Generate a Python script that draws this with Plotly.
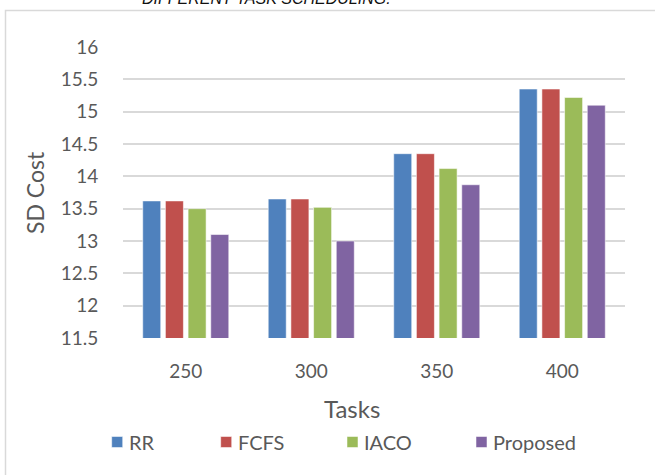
import plotly.graph_objects as go

# Task counts and SD cost per scheduling algorithm
tasks = ["250", "300", "350", "400"]
rr = [13.62, 13.65, 14.35, 15.35]
fcfs = [13.62, 13.65, 14.35, 15.35]
iaco = [13.50, 13.52, 14.12, 15.22]
proposed = [13.10, 13.00, 13.87, 15.10]

series_names = ["RR", "FCFS", "IACO", "Proposed"]
series_values = [rr, fcfs, iaco, proposed]
colors = ["#4F81BD", "#C0504D", "#9BBB59", "#8064A2"]

y_ticks = [11.5, 12, 12.5, 13, 13.5, 14, 14.5, 15, 15.5, 16]
y_tick_text = ["11.5", "12", "12.5", "13", "13.5", "14", "14.5", "15", "15.5", "16"]

W, H = 655, 475
L, R, T, B = 123, 30, 47, 137
PW, PH = W - L - R, H - T - B
FONT = "Lato"
GREY = "#595959"


def px(x):
    return (x - L) / PW


def py(y):
    return 1 - (y - T) / PH


fig = go.Figure()
for name, vals, col in zip(series_names, series_values, colors):
    fig.add_trace(go.Bar(
        x=tasks, y=vals, name=name,
        marker=dict(color=col, line=dict(color="rgba(255,255,255,0.55)", width=1)),
        showlegend=False,
    ))

shapes = [
    # chart frame (left and top edges visible)
    dict(type="rect", xref="paper", yref="paper",
         x0=px(5.5), x1=px(700), y0=py(520), y1=py(10.5),
         line=dict(color="#D9D9D9", width=1.5), fillcolor="rgba(0,0,0,0)", layer="below"),
]
annotations = [
    dict(text="<i>DIFFERENT TASK SCHEDULING.</i>", xref="paper", yref="paper",
         x=px(266), y=py(-1), xanchor="center", yanchor="middle", showarrow=False,
         font=dict(family="Liberation Sans", size=16, color="#111111")),
    dict(text="SD Cost", xref="paper", yref="paper", x=px(35), y=py(193),
         xanchor="center", yanchor="middle", textangle=-90, showarrow=False,
         font=dict(family=FONT, size=23, color=GREY)),
    dict(text="Tasks", xref="paper", yref="paper", x=px(352), y=py(408),
         xanchor="center", yanchor="middle", showarrow=False,
         font=dict(family=FONT, size=24, color=GREY)),
]

# legend row: colored squares followed by series names
legend_marks = [111.7, 220.7, 347.0, 476.0]
legend_y = 442
for name, col, mx in zip(series_names, colors, legend_marks):
    shapes.append(dict(type="rect", xref="paper", yref="paper",
                       x0=px(mx), x1=px(mx + 11), y0=py(legend_y + 5.5), y1=py(legend_y - 5.5),
                       fillcolor=col, line=dict(color="rgba(255,255,255,0.5)", width=1)))
    annotations.append(dict(text=name, xref="paper", yref="paper",
                            x=px(mx + 15), y=py(legend_y), xanchor="left", yanchor="middle",
                            showarrow=False, font=dict(family=FONT, size=20, color=GREY)))

fig.update_layout(
    width=W, height=H,
    margin=dict(l=L, r=R, t=T, b=B),
    paper_bgcolor="white", plot_bgcolor="white",
    barmode="group", bargap=0.277, bargroupgap=0.206,
    font=dict(family=FONT, size=19, color=GREY),
    shapes=shapes, annotations=annotations,
)
fig.update_xaxes(
    type="category", showgrid=False, zeroline=False, showline=False,
    ticks="outside", ticklen=16, tickcolor="rgba(0,0,0,0)",
    tickfont=dict(family=FONT, size=19, color=GREY),
)
fig.update_yaxes(
    range=[11.5, 16], tickvals=y_ticks, ticktext=y_tick_text,
    showgrid=True, gridcolor="#D9D9D9", gridwidth=1.5,
    zeroline=False, showline=False,
    ticks="outside", ticklen=20, tickcolor="rgba(0,0,0,0)",
    tickfont=dict(family=FONT, size=19, color=GREY),
)

fig.write_html("out.html")
